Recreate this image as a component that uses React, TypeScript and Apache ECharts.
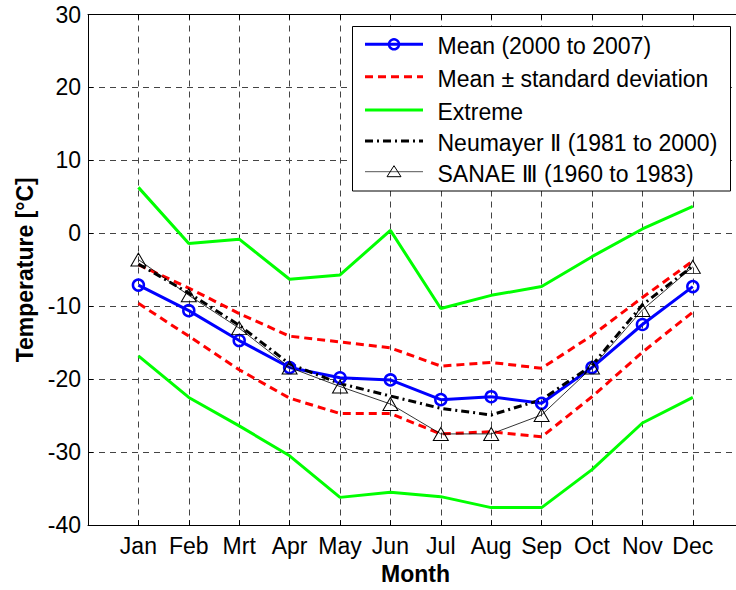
import React, { useEffect, useRef } from 'react';
import * as echarts from 'echarts';

// Month tick labels (Dutch "Mrt" for March)
const MONTHS = ['Jan', 'Feb', 'Mrt', 'Apr', 'May', 'Jun', 'Jul', 'Aug', 'Sep', 'Oct', 'Nov', 'Dec'];

// Monthly temperatures in °C
const meanTemp = [-7.1, -10.6, -14.7, -18.4, -19.8, -20.1, -22.8, -22.4, -23.3, -18.4, -12.5, -7.3];
const meanPlusSd = [-4.3, -7.5, -11.0, -14.1, -14.9, -15.7, -18.2, -17.7, -18.5, -14.0, -8.8, -3.8];
const meanMinusSd = [-9.6, -14.1, -18.7, -22.6, -24.7, -24.7, -27.5, -27.2, -27.9, -22.4, -16.3, -10.8];
const extremeMax = [6.3, -1.4, -0.8, -6.3, -5.7, 0.4, -10.3, -8.5, -7.3, -3.2, 0.6, 3.7];
const extremeMin = [-16.8, -22.5, -26.4, -30.5, -36.2, -35.5, -36.1, -37.6, -37.6, -32.4, -26.0, -22.5];
const neumayer = [-4.2, -8.2, -12.6, -17.9, -20.6, -22.3, -24.0, -24.9, -22.8, -18.1, -9.8, -4.5];
const sanae = [-3.6, -8.5, -13.0, -18.4, -21.0, -23.4, -27.5, -27.5, -24.9, -18.4, -10.5, -4.6];

const Y_TICKS = { min: -40, max: 30, step: 10 };

const LEGEND_LABELS = [
  'Mean (2000 to 2007)',
  'Mean \u00B1 standard deviation',
  'Extreme',
  'Neumayer \u2161 (1981 to 2000)',
  'SANAE \u2162 (1960 to 1983)',
];

const FONT = '"Liberation Sans", Arial, Helvetica, "DejaVu Sans", sans-serif';
const BLUE = '#0000FF';
const RED = '#FF0000';
const GREEN = '#00FF00';
const DASH = [8, 5];
const DASH_DOT = [8, 4, 2, 4];

const toPairs = (arr: number[]) => arr.map((v, i) => [i + 1, v]);

export default function App() {
  const ref = useRef<HTMLDivElement>(null);

  useEffect(() => {
    if (!ref.current) return;
    const chart = echarts.init(ref.current, null, { renderer: 'svg' });

    const textBase = { fontFamily: FONT, fontSize: 23, color: '#000' };
    const gridLine = { show: true, lineStyle: { color: '#444', width: 1, type: [6, 5] as number[] } };

    // legend box geometry
    const lgX = 352.5;
    const lgY = 26.5;
    const lgW = 378;
    const lgH = 164.5;
    const rows = [44.3, 76.7, 110, 141, 171.7];
    const sx1 = 365;
    const sx2 = 423;
    const sxm = (sx1 + sx2) / 2;
    const tx = 437.5;

    const legendGraphics: any[] = [
      {
        type: 'rect',
        shape: { x: lgX, y: lgY, width: lgW, height: lgH },
        style: { fill: '#fff', stroke: '#000', lineWidth: 1 },
        z: 100,
      },
      // Mean
      { type: 'line', shape: { x1: sx1, y1: rows[0], x2: sx2, y2: rows[0] }, style: { stroke: BLUE, lineWidth: 3 }, z: 101 },
      { type: 'circle', shape: { cx: sxm, cy: rows[0], r: 5 }, style: { fill: 'none', stroke: BLUE, lineWidth: 2.5 }, z: 102 },
      // Mean ± sd
      { type: 'line', shape: { x1: sx1, y1: rows[1], x2: sx2, y2: rows[1] }, style: { stroke: RED, lineWidth: 3, lineDash: DASH }, z: 101 },
      // Extreme
      { type: 'line', shape: { x1: sx1, y1: rows[2], x2: sx2, y2: rows[2] }, style: { stroke: GREEN, lineWidth: 3 }, z: 101 },
      // Neumayer
      { type: 'line', shape: { x1: sx1, y1: rows[3], x2: sx2, y2: rows[3] }, style: { stroke: '#000', lineWidth: 3, lineDash: DASH_DOT }, z: 101 },
      // SANAE
      { type: 'line', shape: { x1: sx1, y1: rows[4], x2: sx2, y2: rows[4] }, style: { stroke: '#555', lineWidth: 1 }, z: 101 },
      {
        type: 'polygon',
        shape: { points: [[sxm, rows[4] - 6], [sxm - 7, rows[4] + 5], [sxm + 7, rows[4] + 5]] },
        style: { fill: 'none', stroke: '#000', lineWidth: 1 },
        z: 102,
      },
      ...LEGEND_LABELS.map((t, i) => ({
        type: 'text',
        x: tx,
        y: rows[i] + 2,
        style: {
          text: t,
          font: `23px ${FONT}`,
          fill: '#000',
          textAlign: 'left',
          textVerticalAlign: 'middle',
          verticalAlign: 'middle',
        },
        z: 102,
      })),
    ];

    const option: any = {
      animation: false,
      backgroundColor: '#fff',
      grid: { left: 88, top: 14.5, width: 655.2, height: 515.5, containLabel: false },
      xAxis: [
        {
          type: 'value',
          position: 'bottom',
          min: 0,
          max: 13,
          interval: 1,
          axisLine: { show: true, onZero: false, lineStyle: { color: '#000', width: 1 } },
          axisTick: { show: true, inside: true, length: 5, lineStyle: { color: '#000' } },
          axisLabel: {
            ...textBase,
            margin: 9,
            showMinLabel: true,
            showMaxLabel: true,
            formatter: (v: number) => MONTHS[v - 1] ?? '',
          },
          splitLine: gridLine,
          name: 'Month',
          nameLocation: 'middle',
          nameGap: 36,
          nameTextStyle: { ...textBase, fontWeight: 'bold' },
        },
        {
          type: 'value',
          position: 'top',
          min: 0,
          max: 13,
          interval: 1,
          axisLine: { show: true, onZero: false, lineStyle: { color: '#000', width: 1 } },
          axisTick: { show: true, inside: true, length: 5, lineStyle: { color: '#000' } },
          axisLabel: { show: false },
          splitLine: { show: false },
        },
      ],
      yAxis: [
        {
          type: 'value',
          min: Y_TICKS.min,
          max: Y_TICKS.max,
          interval: Y_TICKS.step,
          axisLine: { show: true, onZero: false, lineStyle: { color: '#000', width: 1 } },
          axisTick: { show: true, inside: true, length: 5, lineStyle: { color: '#000' } },
          axisLabel: { ...textBase, margin: 7 },
          splitLine: gridLine,
          name: 'Temperature [°C]',
          nameLocation: 'middle',
          nameRotate: 90,
          nameGap: 52,
          nameTextStyle: { ...textBase, fontWeight: 'bold' },
        },
      ],
      series: [
        {
          name: 'Extreme',
          type: 'line',
          data: toPairs(extremeMax),
          symbol: 'none',
          lineStyle: { color: GREEN, width: 3 },
          itemStyle: { color: GREEN },
        },
        {
          name: 'Extreme',
          type: 'line',
          data: toPairs(extremeMin),
          symbol: 'none',
          lineStyle: { color: GREEN, width: 3 },
          itemStyle: { color: GREEN },
        },
        {
          name: 'Mean ± standard deviation',
          type: 'line',
          data: toPairs(meanPlusSd),
          symbol: 'none',
          lineStyle: { color: RED, width: 3, type: DASH },
          itemStyle: { color: RED },
        },
        {
          name: 'Mean ± standard deviation',
          type: 'line',
          data: toPairs(meanMinusSd),
          symbol: 'none',
          lineStyle: { color: RED, width: 3, type: DASH },
          itemStyle: { color: RED },
        },
        {
          name: 'Mean (2000 to 2007)',
          type: 'line',
          data: toPairs(meanTemp),
          symbol: 'circle',
          symbolSize: 11,
          lineStyle: { color: BLUE, width: 3 },
          itemStyle: { color: 'rgba(0,0,0,0)', borderColor: BLUE, borderWidth: 2.5 },
        },
        {
          name: 'Neumayer II (1981 to 2000)',
          type: 'line',
          data: toPairs(neumayer),
          symbol: 'none',
          lineStyle: { color: '#000', width: 3, type: DASH_DOT },
          itemStyle: { color: '#000' },
        },
        {
          name: 'SANAE III (1960 to 1983)',
          type: 'line',
          data: toPairs(sanae),
          symbol: 'triangle',
          symbolSize: [15, 13],
          lineStyle: { color: '#000', width: 0.8 },
          itemStyle: { color: 'rgba(0,0,0,0)', borderColor: '#000', borderWidth: 1 },
        },
      ],
      graphic: legendGraphics,
    };

    chart.setOption(option);
    return () => chart.dispose();
  }, []);

  return (
    <div
      style={{
        position: 'absolute',
        left: 0,
        top: 0,
        width: 736,
        height: 590,
        overflow: 'hidden',
        background: '#fff',
      }}
    >
      <div ref={ref} style={{ width: 760, height: 590 }} />
    </div>
  );
}
